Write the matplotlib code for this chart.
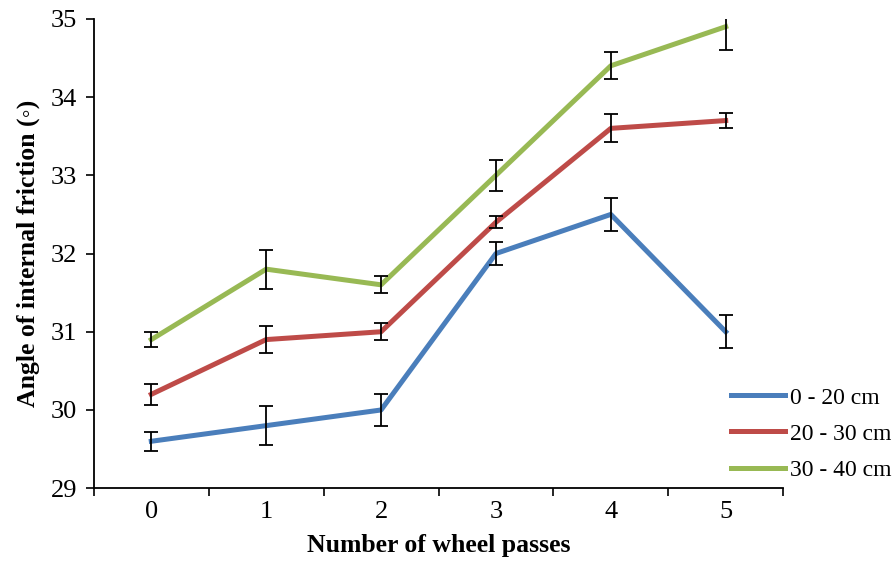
import numpy as np
import matplotlib.pyplot as plt

plt.rcParams['font.family'] = ['Liberation Serif', 'DejaVu Serif']

# data
passes = [0, 1, 2, 3, 4, 5]
labels = ['0 - 20 cm', '20 - 30 cm', '30 - 40 cm']
d0_20 = [29.6, 29.8, 30.0, 32.0, 32.5, 31.0]
d20_30 = [30.2, 30.9, 31.0, 32.4, 33.6, 33.7]
d30_40 = [30.9, 31.8, 31.6, 33.0, 34.4, 34.9]
err0_20 = [0.12, 0.25, 0.21, 0.15, 0.21, 0.21]
err20_30 = [0.13, 0.17, 0.11, 0.08, 0.18, 0.10]
err30_40 = [0.10, 0.25, 0.11, 0.20, 0.17, 0.30]
colors = ['#4A7EBB', '#BE4B48', '#98B954']

fig = plt.figure(figsize=(8.94, 5.71), dpi=100)
ax = fig.add_axes([0.105, 0.145, 0.771, 0.822])

x = np.array(passes)
series = [d0_20, d20_30, d30_40]
errs = [err0_20, err20_30, err30_40]
for vals, e, c, lab in zip(series, errs, colors, labels):
    ax.plot(x, vals, color=c, lw=3.6, label=lab, zorder=2)
    ax.errorbar(x, vals, yerr=e, fmt='none', ecolor='black', elinewidth=1.3,
                capsize=5, capthick=1.3, zorder=3)

ax.set_xlim(-0.5, 5.5)
ax.set_ylim(29, 35)
ax.set_yticks(range(29, 36))
ax.set_xticks(np.arange(-0.5, 6, 1))
ax.set_xticklabels([])
ax.set_xticks(x, minor=True)
ax.set_xticklabels([str(p) for p in passes], minor=True)
ax.tick_params(axis='x', which='major', direction='out', length=6, width=1.2)
ax.tick_params(axis='x', which='minor', length=0, pad=9, labelsize=19)
ax.tick_params(axis='y', direction='out', length=6, width=1.2, labelsize=19, pad=6)

for s in ['top', 'right']:
    ax.spines[s].set_visible(False)
for s in ['left', 'bottom']:
    ax.spines[s].set_linewidth(1.3)

ax.set_xlabel('Number of wheel passes', fontsize=18.5, fontweight='bold', labelpad=8)
ax.set_ylabel('Angle of internal friction (◦)', fontsize=18.5, fontweight='bold', labelpad=8)

leg = ax.legend(loc='center left', bbox_to_anchor=(0.799, 0.24), bbox_transform=fig.transFigure,
                frameon=False, fontsize=17, handlelength=2.3, handletextpad=0.2,
                labelspacing=0.62, borderpad=0.2)

fig.savefig('out.png', dpi=100)
